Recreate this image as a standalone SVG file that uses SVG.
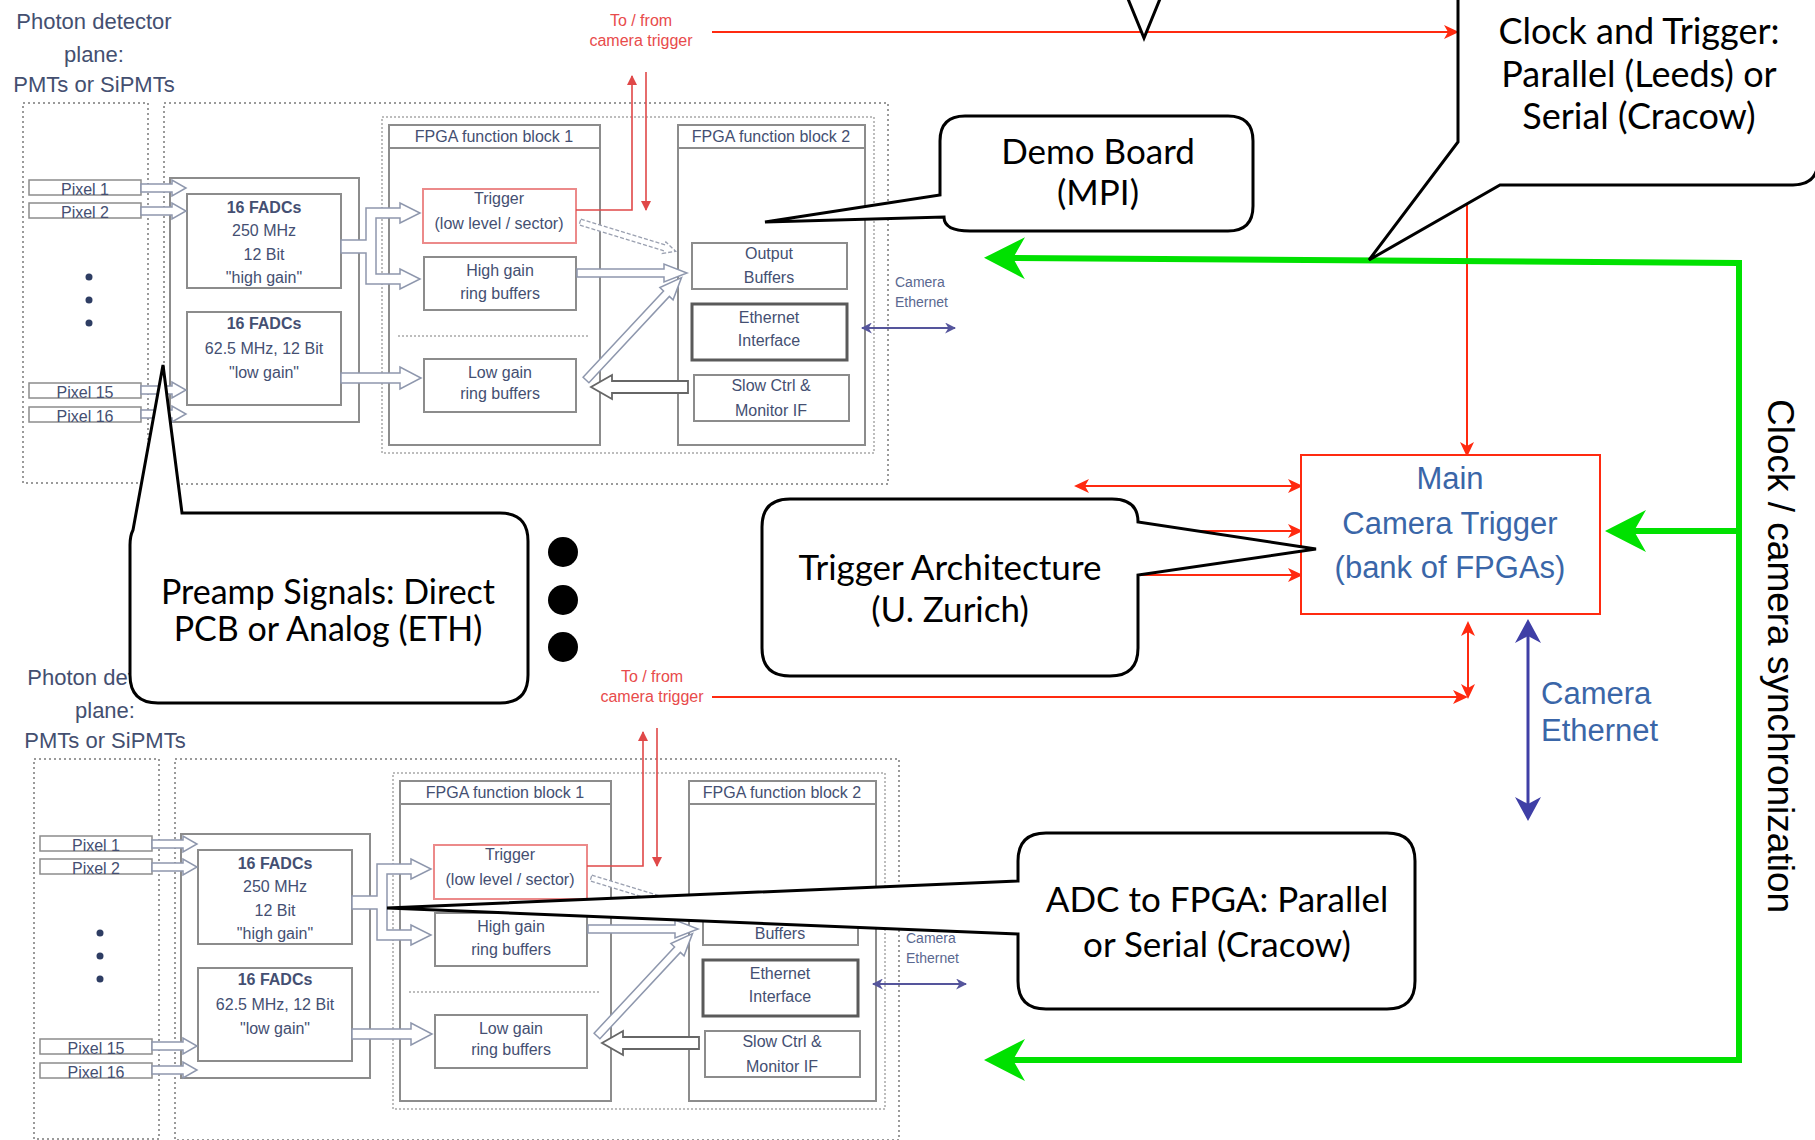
<svg xmlns="http://www.w3.org/2000/svg" width="1815" height="1140" viewBox="0 0 1815 1140">
<defs>
<style>
.ph{font-family:"Liberation Sans",Arial,sans-serif;font-size:22px;fill:#444f70;text-anchor:middle}
.bt{font-family:"Liberation Sans",Arial,sans-serif;font-size:16px;fill:#444f72;text-anchor:middle}
.bb{font-weight:bold}
.rt{fill:#e84b4b}
.ce{font-size:14px;text-anchor:start;fill:#5a6890}
.dot{fill:none;stroke:#9a9a9a;stroke-width:2;stroke-dasharray:2 3}
.dot2{fill:none;stroke:#a8a8a8;stroke-width:1.5;stroke-dasharray:2 2}
.bx{fill:none;stroke:#8c8c8c;stroke-width:2}
.px{fill:#fff;stroke:#8c8c8c;stroke-width:1.5}
.rb{fill:none;stroke:#ec8a8a;stroke-width:2}
.eb{fill:none;stroke:#5a5a5a;stroke-width:3}
.ha{fill:#fff;stroke:#8e97ad;stroke-width:1.5}
.hd{fill:#fff;stroke:#666;stroke-width:1.8}
.hx{fill:#fff;stroke:#9aa0b0;stroke-width:1.3;stroke-dasharray:4 2}
.bd{fill:#2e3d63}
.brl{fill:none;stroke:#e04848;stroke-width:1.6}
.bpl{fill:none;stroke:#55559c;stroke-width:2}
.co{fill:#fff;stroke:#000;stroke-width:3;stroke-linejoin:miter}
.ct{font-family:Lato,"Noto Sans","DejaVu Sans",sans-serif;font-size:35px;fill:#000;text-anchor:middle}
.red{fill:none;stroke:#ff2a10;stroke-width:2}
.blu{fill:none;stroke:#3f3fa6;stroke-width:3}
.grn{fill:none;stroke:#00e100;stroke-width:6;stroke-linejoin:miter}
.mt{font-family:"Liberation Sans",Arial,sans-serif;font-size:31px;fill:#3a66a8;text-anchor:middle}
</style>
<marker id="ar" viewBox="0 0 16 14" markerUnits="userSpaceOnUse" markerWidth="16" markerHeight="14" refX="13" refY="7" orient="auto-start-reverse"><path d="M0,0 L15,7 L0,14 L4,7 Z" fill="#ff2a10"/></marker>
<marker id="ab" viewBox="0 0 26 26" markerUnits="userSpaceOnUse" markerWidth="26" markerHeight="26" refX="20" refY="13" orient="auto-start-reverse"><path d="M0,0 L24,13 L0,26 L7,13 Z" fill="#3f3fa6"/></marker>
<marker id="ag" viewBox="0 0 42 42" markerUnits="userSpaceOnUse" markerWidth="42" markerHeight="42" refX="18" refY="21" orient="auto"><path d="M0,0 L41,21 L0,42 L12,21 Z" fill="#00e100"/></marker>
<marker id="abr" viewBox="0 0 10 10" markerUnits="userSpaceOnUse" markerWidth="10" markerHeight="10" refX="9" refY="5" orient="auto"><path d="M0,0 L10,5 L0,10 Z" fill="#e04848"/></marker>
<marker id="abp" viewBox="0 0 10 10" markerUnits="userSpaceOnUse" markerWidth="11" markerHeight="11" refX="9" refY="5" orient="auto-start-reverse"><path d="M0,0 L10,5 L0,10 L3,5 Z" fill="#55559c"/></marker>
</defs>
<rect width="1815" height="1140" fill="#fff"/>

<g id="board-top">
<text class="ph" x="94" y="29">Photon detector</text>
<text class="ph" x="94" y="62">plane:</text>
<text class="ph" x="94" y="92">PMTs or SiPMTs</text>
<rect class="dot" x="23" y="103" width="125" height="380"/>
<rect class="dot" x="164" y="103" width="724" height="381"/>
<rect class="dot2" x="382" y="117" width="492" height="336"/>
<rect class="px" x="29" y="180" width="112" height="15"/><text class="bt" x="85" y="195">Pixel 1</text>
<rect class="px" x="29" y="203" width="112" height="15"/><text class="bt" x="85" y="218">Pixel 2</text>
<rect class="px" x="29" y="383" width="112" height="15"/><text class="bt" x="85" y="398">Pixel 15</text>
<rect class="px" x="29" y="407" width="112" height="15"/><text class="bt" x="85" y="422">Pixel 16</text>
<circle class="bd" cx="89" cy="277" r="3.5"/><circle class="bd" cx="89" cy="300" r="3.5"/><circle class="bd" cx="89" cy="323" r="3.5"/>
<rect class="bx" x="170" y="178" width="189" height="244"/>
<rect class="bx" x="187" y="194" width="154" height="94"/>
<text class="bt bb" x="264" y="213">16 FADCs</text>
<text class="bt" x="264" y="236">250 MHz</text>
<text class="bt" x="264" y="260">12 Bit</text>
<text class="bt" x="264" y="283">"high gain"</text>
<rect class="bx" x="187" y="312" width="154" height="93"/>
<text class="bt bb" x="264" y="329">16 FADCs</text>
<text class="bt" x="264" y="354">62.5 MHz, 12 Bit</text>
<text class="bt" x="264" y="378">"low gain"</text>
<polygon class="ha" points="141,184 172,184 172,180 186,188 172,196 172,192 141,192"/>
<polygon class="ha" points="141,207 172,207 172,203 186,211 172,219 172,215 141,215"/>
<polygon class="ha" points="141,386 172,386 172,382 186,390 172,398 172,394 141,394"/>
<polygon class="ha" points="141,410 172,410 172,406 186,414 172,422 172,418 141,418"/>
<rect class="bx" x="389" y="125" width="211" height="320"/>
<line class="bx" x1="389" y1="148" x2="600" y2="148"/>
<text class="bt" x="494" y="142">FPGA function block 1</text>
<rect class="bx" x="678" y="125" width="187" height="320"/>
<line class="bx" x1="678" y1="148" x2="865" y2="148"/>
<text class="bt" x="771" y="142">FPGA function block 2</text>
<rect class="rb" x="423" y="189" width="153" height="54"/>
<text class="bt" x="499" y="204">Trigger</text>
<text class="bt" x="499" y="229">(low level / sector)</text>
<rect class="bx" x="424" y="257" width="152" height="53"/>
<text class="bt" x="500" y="276">High gain</text>
<text class="bt" x="500" y="299">ring buffers</text>
<line class="dot2" x1="398" y1="336" x2="590" y2="336"/>
<rect class="bx" x="424" y="359" width="152" height="53"/>
<text class="bt" x="500" y="378">Low gain</text>
<text class="bt" x="500" y="399">ring buffers</text>
<rect class="bx" x="692" y="243" width="155" height="46"/>
<text class="bt" x="769" y="259">Output</text>
<text class="bt" x="769" y="283">Buffers</text>
<rect class="eb" x="692" y="304" width="155" height="56"/>
<text class="bt" x="769" y="323">Ethernet</text>
<text class="bt" x="769" y="346">Interface</text>
<rect class="bx" x="694" y="375" width="155" height="46"/>
<text class="bt" x="771" y="391">Slow Ctrl &amp;</text>
<text class="bt" x="771" y="416">Monitor IF</text>
<polygon class="ha" points="341,240 366,240 366,208 400,208 400,203 420,213 400,223 400,218 376,218 376,274 400,274 400,269 420,279 400,289 400,284 366,284 366,253 341,253"/>
<polygon class="ha" points="341,373 400,373 400,367 421,378 400,389 400,383 341,383"/>
<polygon class="ha" points="577,269 664,269 664,264 687,273 664,282 664,277 577,277"/>
<polygon class="ha" transform="translate(586,380) rotate(-47)" points="0,-4 118,-4 118,-9 140,0 118,9 118,4 0,4"/>
<polygon class="hd" points="688,381 612,381 612,375 591,387 612,399 612,393 688,393"/>
<polygon class="hx" transform="translate(580,222) rotate(17)" points="0,-3 88,-3 88,-6 100,0 88,6 88,3 0,3"/>
<path class="brl" d="M576,210 H632 V76" marker-end="url(#abr)"/>
<path class="brl" d="M646,72 V210" marker-end="url(#abr)"/>
<text class="bt rt" x="641" y="26">To / from</text>
<text class="bt rt" x="641" y="46">camera trigger</text>
<text class="bt ce" x="895" y="287">Camera</text>
<text class="bt ce" x="895" y="307">Ethernet</text>
<path class="bpl" d="M862,328 H955" marker-start="url(#abp)" marker-end="url(#abp)"/>
</g>

<g id="board-bottom" transform="translate(11,656)">
<text class="ph" x="94" y="29">Photon detector</text>
<text class="ph" x="94" y="62">plane:</text>
<text class="ph" x="94" y="92">PMTs or SiPMTs</text>
<rect class="dot" x="23" y="103" width="125" height="380"/>
<rect class="dot" x="164" y="103" width="724" height="381"/>
<rect class="dot2" x="382" y="117" width="492" height="336"/>
<rect class="px" x="29" y="180" width="112" height="15"/><text class="bt" x="85" y="195">Pixel 1</text>
<rect class="px" x="29" y="203" width="112" height="15"/><text class="bt" x="85" y="218">Pixel 2</text>
<rect class="px" x="29" y="383" width="112" height="15"/><text class="bt" x="85" y="398">Pixel 15</text>
<rect class="px" x="29" y="407" width="112" height="15"/><text class="bt" x="85" y="422">Pixel 16</text>
<circle class="bd" cx="89" cy="277" r="3.5"/><circle class="bd" cx="89" cy="300" r="3.5"/><circle class="bd" cx="89" cy="323" r="3.5"/>
<rect class="bx" x="170" y="178" width="189" height="244"/>
<rect class="bx" x="187" y="194" width="154" height="94"/>
<text class="bt bb" x="264" y="213">16 FADCs</text>
<text class="bt" x="264" y="236">250 MHz</text>
<text class="bt" x="264" y="260">12 Bit</text>
<text class="bt" x="264" y="283">"high gain"</text>
<rect class="bx" x="187" y="312" width="154" height="93"/>
<text class="bt bb" x="264" y="329">16 FADCs</text>
<text class="bt" x="264" y="354">62.5 MHz, 12 Bit</text>
<text class="bt" x="264" y="378">"low gain"</text>
<polygon class="ha" points="141,184 172,184 172,180 186,188 172,196 172,192 141,192"/>
<polygon class="ha" points="141,207 172,207 172,203 186,211 172,219 172,215 141,215"/>
<polygon class="ha" points="141,386 172,386 172,382 186,390 172,398 172,394 141,394"/>
<polygon class="ha" points="141,410 172,410 172,406 186,414 172,422 172,418 141,418"/>
<rect class="bx" x="389" y="125" width="211" height="320"/>
<line class="bx" x1="389" y1="148" x2="600" y2="148"/>
<text class="bt" x="494" y="142">FPGA function block 1</text>
<rect class="bx" x="678" y="125" width="187" height="320"/>
<line class="bx" x1="678" y1="148" x2="865" y2="148"/>
<text class="bt" x="771" y="142">FPGA function block 2</text>
<rect class="rb" x="423" y="189" width="153" height="54"/>
<text class="bt" x="499" y="204">Trigger</text>
<text class="bt" x="499" y="229">(low level / sector)</text>
<rect class="bx" x="424" y="257" width="152" height="53"/>
<text class="bt" x="500" y="276">High gain</text>
<text class="bt" x="500" y="299">ring buffers</text>
<line class="dot2" x1="398" y1="336" x2="590" y2="336"/>
<rect class="bx" x="424" y="359" width="152" height="53"/>
<text class="bt" x="500" y="378">Low gain</text>
<text class="bt" x="500" y="399">ring buffers</text>
<rect class="bx" x="692" y="243" width="155" height="46"/>
<text class="bt" x="769" y="259">Output</text>
<text class="bt" x="769" y="283">Buffers</text>
<rect class="eb" x="692" y="304" width="155" height="56"/>
<text class="bt" x="769" y="323">Ethernet</text>
<text class="bt" x="769" y="346">Interface</text>
<rect class="bx" x="694" y="375" width="155" height="46"/>
<text class="bt" x="771" y="391">Slow Ctrl &amp;</text>
<text class="bt" x="771" y="416">Monitor IF</text>
<polygon class="ha" points="341,240 366,240 366,208 400,208 400,203 420,213 400,223 400,218 376,218 376,274 400,274 400,269 420,279 400,289 400,284 366,284 366,253 341,253"/>
<polygon class="ha" points="341,373 400,373 400,367 421,378 400,389 400,383 341,383"/>
<polygon class="ha" points="577,269 664,269 664,264 687,273 664,282 664,277 577,277"/>
<polygon class="ha" transform="translate(586,380) rotate(-47)" points="0,-4 118,-4 118,-9 140,0 118,9 118,4 0,4"/>
<polygon class="hd" points="688,381 612,381 612,375 591,387 612,399 612,393 688,393"/>
<polygon class="hx" transform="translate(580,222) rotate(17)" points="0,-3 88,-3 88,-6 100,0 88,6 88,3 0,3"/>
<path class="brl" d="M576,210 H632 V76" marker-end="url(#abr)"/>
<path class="brl" d="M646,72 V210" marker-end="url(#abr)"/>
<text class="bt rt" x="641" y="26">To / from</text>
<text class="bt rt" x="641" y="46">camera trigger</text>
<text class="bt ce" x="895" y="287">Camera</text>
<text class="bt ce" x="895" y="307">Ethernet</text>
<path class="bpl" d="M862,328 H955" marker-start="url(#abp)" marker-end="url(#abp)"/>
</g>

<g id="connectors">
<path class="red" d="M712,32 H1457" marker-end="url(#ar)"/>
<path class="red" d="M1467,150 V455" marker-end="url(#ar)"/>
<path class="red" d="M1076,486 H1301" marker-start="url(#ar)" marker-end="url(#ar)"/>
<path class="red" d="M1110,531 H1301" marker-end="url(#ar)"/>
<path class="red" d="M1110,575 H1301" marker-end="url(#ar)"/>
<path class="red" d="M712,697 H1466" marker-end="url(#ar)"/>
<path class="red" d="M1468,697 V623" marker-start="url(#ar)" marker-end="url(#ar)"/>
<path class="blu" d="M1528,623 V817" marker-start="url(#ab)" marker-end="url(#ab)"/>
<path class="grn" d="M1739,531 V263 L1007,258" marker-end="url(#ag)"/>
<path class="grn" d="M1739,531 V1060 H1007" marker-end="url(#ag)"/>
<path class="grn" d="M1739,531 H1628" marker-end="url(#ag)"/>
</g>

<g id="main-trigger">
<rect x="1301" y="455" width="299" height="159" fill="#fff" stroke="#ff2a10" stroke-width="2"/>
<text class="mt" x="1450" y="489">Main</text>
<text class="mt" x="1450" y="534">Camera Trigger</text>
<text class="mt" x="1450" y="578">(bank of FPGAs)</text>
</g>

<g id="camera-ethernet-label">
<text class="mt" x="1541" y="704" style="text-anchor:start">Camera</text>
<text class="mt" x="1541" y="741" style="text-anchor:start">Ethernet</text>
</g>

<g id="sync-label">
<text transform="translate(1768,656) rotate(90)" x="0" y="0" style="font-family:'Liberation Sans',Arial,sans-serif;font-size:37px;fill:#000;text-anchor:middle">Clock / camera synchronization</text>
</g>

<g id="callout-top">
<path class="co" d="M1126,-6 L1144,38 L1162,-6 Z"/>
</g>

<g id="callout-demo">
<path class="co" d="M965,116 H1228 Q1253,116 1253,141 V206 Q1253,231 1228,231 H970 Q944,231 944,217 L765,222 L940,195 V141 Q940,116 965,116 Z"/>
<text class="ct" x="1098" y="164">Demo Board</text>
<text class="ct" x="1098" y="205">(MPI)</text>
</g>

<g id="callout-clock">
<path class="co" d="M1458,-10 V142 L1369,260 L1500,185 H1793 Q1818,185 1818,160 V-10 Z"/>
<text class="ct" x="1639" y="44" style="font-size:36px">Clock and Trigger:</text>
<text class="ct" x="1639" y="87" style="font-size:36px">Parallel (Leeds) or</text>
<text class="ct" x="1639" y="129" style="font-size:36px">Serial (Cracow)</text>
</g>

<g id="callout-preamp">
<path class="co" d="M182,513 H500 Q528,513 528,541 V675 Q528,703 500,703 H158 Q130,703 130,675 V545 Q130,536 133,530 L163,365 Z"/>
<text class="ct" x="328" y="604" style="font-size:34px">Preamp Signals: Direct</text>
<text class="ct" x="328" y="641" style="font-size:34px">PCB or Analog (ETH)</text>
</g>

<g id="dots">
<circle cx="563" cy="552" r="15" fill="#000"/>
<circle cx="563" cy="600" r="15" fill="#000"/>
<circle cx="563" cy="647" r="15" fill="#000"/>
</g>

<g id="callout-trigger-arch">
<path class="co" d="M790,499 H1112 Q1138,499 1138,522 L1316,549 L1138,575 V648 Q1138,676 1110,676 H790 Q762,676 762,648 V527 Q762,499 790,499 Z"/>
<text class="ct" x="950" y="580">Trigger Architecture</text>
<text class="ct" x="950" y="622">(U. Zurich)</text>
</g>

<g id="callout-adc">
<path class="co" d="M1046,833 H1387 Q1415,833 1415,861 V981 Q1415,1009 1387,1009 H1046 Q1018,1009 1018,981 V934 L387,908 L1018,881 V861 Q1018,833 1046,833 Z"/>
<text class="ct" x="1217" y="912">ADC to FPGA: Parallel</text>
<text class="ct" x="1217" y="957">or Serial (Cracow)</text>
</g>
</svg>
